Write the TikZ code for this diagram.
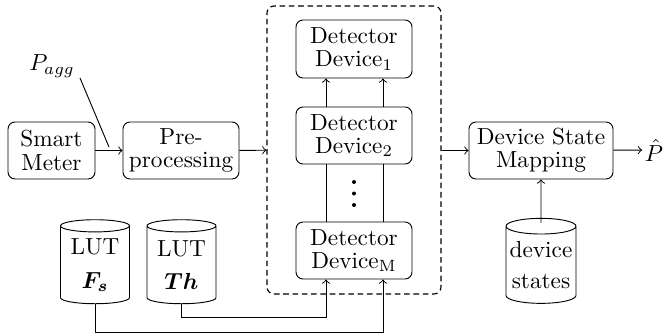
\documentclass[tikz,border=0pt]{standalone}
\usepackage{amsmath,bm}
\usetikzlibrary{shapes.geometric,calc}
\newlength\px \setlength\px{0.43pt}
\begin{document}
\begin{tikzpicture}[x=0.43pt,y=-0.43pt,
  txt/.style={font=\fontsize{10}{10}\selectfont},
  box/.style={txt,draw,rounded corners=3pt,align=center,inner sep=0pt,minimum height=57\px,minimum width=116\px},
  db/.style={txt,draw,cylinder,shape border rotate=90,aspect=0.25,align=center,inner sep=0pt,minimum width=69\px,minimum height=84\px},
  grp/.style={draw,dash pattern=on 2.4pt off 1.6pt,line width=0.5pt,rounded corners=3pt,inner sep=0pt},
  dotn/.style={circle,fill,inner sep=0pt,minimum size=4\px},
  >=to]
\useasboundingbox (0,0) rectangle (665,335);
% group
\node[grp,minimum width=174\px,minimum height=288\px] (grp) at (354,150) {};
% nodes
\node[box,minimum width=87\px] (sm) at (51.5,150.5) {Smart\\Meter};
\node[box] (pp) at (181,150.5) {Pre-\\processing};
\node[box,minimum height=58\px] (d1) at (354,49) {Detector\\Device$_1$};
\node[box] (d2) at (354,135.5) {Detector\\Device$_2$};
\node[box] (dm) at (354,250.5) {Detector\\Device$_{\mathrm{M}}$};
\node[box,minimum width=144\px] (dsm) at (541,150.5) {Device State\\Mapping};
\node[txt,inner sep=1pt] (phat) at (654,150) {$\hat{P}$};
\node[txt,inner sep=0pt] (pagg) at (52,66) {$P_{agg}$};
\node[db] (fs) at (95,265) {LUT\\[4.5pt]$\bm{F_s}$};
\node[db] (th) at (181.5,265) {LUT\\[4.5pt]$\bm{Th}$};
\node[db,minimum width=70\px,minimum height=85\px] (ds) at (541,265) {device\\[3pt]states};
\node[dotn] (dot1) at (354,182) {};
\node[dotn] (dot2) at (354,193.5) {};
\node[dotn] (dot3) at (354,205) {};
% helper coordinates
\coordinate (xl) at (326,0);
\coordinate (xr) at (383,0);
\coordinate (yth) at (0,317);
\coordinate (yfs) at (0,332);
\coordinate (pa1) at (80,78);
\coordinate (pa2) at (109,147);
% connectors
\draw[->] (sm) -- (pp);
\draw (pa1) -- (pa2);
\draw[->] (pp) -- (grp);
\draw[->] (grp.east |- dsm.west) -- (dsm);
\draw[->] (dsm) -- (phat);
\draw[->] (d2.north -| xl) -- (d1.south -| xl);
\draw[->] (d2.north -| xr) -- (d1.south -| xr);
\draw (dm.north -| xl) -- (d2.south -| xl);
\draw (dm.north -| xr) -- (d2.south -| xr);
\draw[->] (th.south) -- (th.south |- yth) -| (dm.south -| xl);
\draw[->] (fs.south) -- (fs.south |- yfs) -| (dm.south -| xr);
\draw[->] ($(ds.north)+(0,5)$) -- (dsm.south);
\end{tikzpicture}
\end{document}
